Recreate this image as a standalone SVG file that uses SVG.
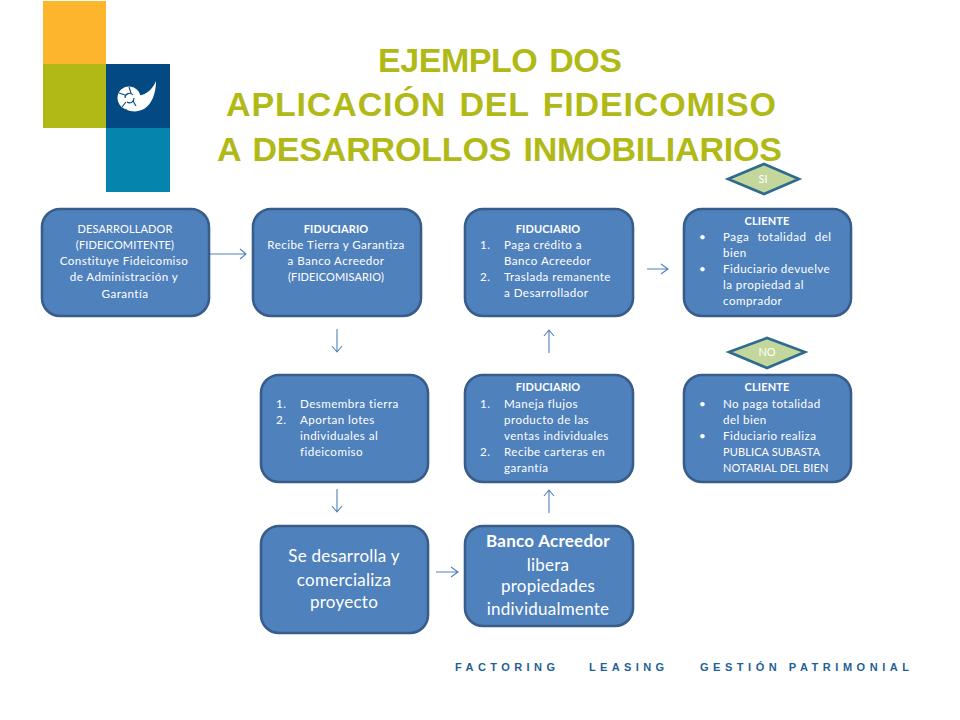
<svg xmlns="http://www.w3.org/2000/svg" width="960" height="720" viewBox="0 0 960 720">
<style>
text{font-family:Lato,"Open Sans","Liberation Sans",sans-serif}
.box{fill:#4f81bd;stroke:#385d8a;stroke-width:2.6}
.dia{fill:#c3d69b;stroke:#2f6a8f;stroke-width:2.6}
.t{fill:#fff;font-size:11.6px;letter-spacing:.45px}
.u{fill:#fff;font-size:11px;letter-spacing:.12px}
.c{text-anchor:middle}
.b{font-weight:700}
.big{fill:#fff;font-size:17px;letter-spacing:.25px;text-anchor:middle}
.dt{fill:#fff;font-size:11px;text-anchor:middle}
.title{fill:#b0b915;font-family:"Liberation Sans",Arial,sans-serif;font-size:34px;font-weight:700;word-spacing:3px}
.foot{fill:#1f5f96;font-family:"Liberation Sans",Arial,sans-serif;font-size:11px;font-weight:700}
.arr{fill:none;stroke:#4f81bd;stroke-width:1.1}
</style>
<g id="logo">
<rect x="43" y="1" width="63" height="63" fill="#fdb52e"/>
<rect x="43" y="64" width="63" height="64" fill="#b0b915"/>
<rect x="106" y="64" width="64" height="64" fill="#024a81"/>
<rect x="106" y="128" width="64" height="64" fill="#0585ae"/>
<path d="M156 81C156 93 152 104 144 109C138 112 132 112 127 110L135 96C144 96 152 91 156 81Z" fill="#fff"/>
<circle cx="129" cy="98" r="11.5" fill="#fff"/>
<path d="M125 98a4.5 4.5 0 0 1 8-3M134 98a4.5 4.5 0 0 1-7 4M129 87l2 6M119 93l6 2M122 107l4-5M136 106l-3-5" fill="none" stroke="#024a81" stroke-width="1.1"/>
</g>
<g id="title">
<text class="title" x="378" y="72" textLength="244">EJEMPLO DOS</text>
<text class="title" x="226" y="116" textLength="550">APLICACIÓN DEL FIDEICOMISO</text>
<text class="title" x="217" y="161" textLength="565">A DESARROLLOS INMOBILIARIOS</text>
</g>
<g id="connectors">
<path class="arr" d="M210 254H246M240 249l6 5-6 5"/>
<path class="arr" d="M337 329V352M332 346l5 6 5-6"/>
<path class="arr" d="M549 353V330M544 336l5-6 5 6"/>
<path class="arr" d="M647 269H668M661 264l7 5-7 5"/>
<path class="arr" d="M337 489V512M332 506l5 6 5-6"/>
<path class="arr" d="M549 513V490M544 496l5-6 5 6"/>
<path class="arr" d="M436 572H458M451 567l7 5-7 5"/>
</g>
<g id="n1"><rect class="box" x="42" y="209" width="167" height="107" rx="18"/>
<text class="u c" x="125" y="233">DESARROLLADOR</text><text class="u c" x="125" y="249">(FIDEICOMITENTE)</text><text class="t c" x="124" y="265">Constituye Fideicomiso</text><text class="t c" x="124" y="281">de Administración y</text><text class="t c" x="125" y="298">Garantía</text></g>
<g id="n2"><rect class="box" x="253" y="209" width="168" height="107" rx="18"/>
<text class="u c b" x="336" y="233">FIDUCIARIO</text><text class="t c" x="336" y="249">Recibe Tierra y Garantiza</text><text class="t c" x="336" y="265">a Banco Acreedor</text><text class="u c" x="336" y="281">(FIDEICOMISARIO)</text></g>
<g id="n3"><rect class="box" x="465" y="209" width="168" height="107" rx="18"/>
<text class="u c b" x="548" y="233">FIDUCIARIO</text><text class="t" x="480" y="249">1.</text><text class="t" x="504" y="249">Paga crédito a</text><text class="t" x="504" y="265">Banco Acreedor</text><text class="t" x="480" y="281">2.</text><text class="t" x="504" y="281">Traslada remanente</text><text class="t" x="504" y="297">a Desarrollador</text></g>
<g id="n4"><rect class="box" x="684" y="209" width="167" height="107" rx="18"/>
<text class="u c b" x="767" y="225">CLIENTE</text><text class="t" x="699" y="241">•</text><text class="t" x="723" y="241" word-spacing="5">Paga totalidad del</text><text class="t" x="723" y="257">bien</text><text class="t" x="699" y="273">•</text><text class="t" x="723" y="273">Fiduciario devuelve</text><text class="t" x="723" y="289">la propiedad al</text><text class="t" x="723" y="305">comprador</text></g>
<g id="n5"><rect class="box" x="261" y="375" width="167" height="107" rx="18"/>
<text class="t" x="276" y="408">1.</text><text class="t" x="300" y="408">Desmembra tierra</text><text class="t" x="276" y="424">2.</text><text class="t" x="300" y="424">Aportan lotes</text><text class="t" x="300" y="440">individuales al</text><text class="t" x="300" y="456">fideicomiso</text></g>
<g id="n6"><rect class="box" x="465" y="375" width="168" height="107" rx="18"/>
<text class="u c b" x="548" y="391">FIDUCIARIO</text><text class="t" x="480" y="408">1.</text><text class="t" x="504" y="408">Maneja flujos</text><text class="t" x="504" y="424">producto de las</text><text class="t" x="504" y="440">ventas individuales</text><text class="t" x="480" y="456">2.</text><text class="t" x="504" y="456">Recibe carteras en</text><text class="t" x="504" y="472">garantía</text></g>
<g id="n7"><rect class="box" x="684" y="375" width="167" height="107" rx="18"/>
<text class="u c b" x="767" y="391">CLIENTE</text><text class="t" x="699" y="408">•</text><text class="t" x="723" y="408">No paga totalidad</text><text class="t" x="723" y="424">del bien</text><text class="t" x="699" y="440">•</text><text class="t" x="723" y="440">Fiduciario realiza</text><text class="u" x="723" y="456">PUBLICA SUBASTA</text><text class="u" x="723" y="472">NOTARIAL DEL BIEN</text></g>
<g id="n8"><rect class="box" x="261" y="526" width="167" height="107" rx="18"/>
<text class="big" x="344" y="562">Se desarrolla y</text><text class="big" x="344" y="586">comercializa</text><text class="big" x="344" y="608">proyecto</text></g>
<g id="n9"><rect class="box" x="465" y="526" width="168" height="100" rx="18"/>
<text class="big b" x="548" y="547">Banco Acreedor</text><text class="big" x="548" y="571">libera</text><text class="big" x="548" y="592">propiedades</text><text class="big" x="548" y="615">individualmente</text></g>
<g id="si"><polygon class="dia" points="728,179 764,164 799,179 764,194"/><text class="dt" x="763" y="183">SI</text></g>
<g id="no"><polygon class="dia" points="729,352 767,338 805,352 767,368"/><text class="dt" x="767" y="356">NO</text></g>
<g id="footer">
<text class="foot" x="455" y="671" textLength="100">FACTORING</text>
<text class="foot" x="589" y="671" textLength="75">LEASING</text>
<text class="foot" x="700" y="671" textLength="209">GESTIÓN PATRIMONIAL</text>
</g>
</svg>
